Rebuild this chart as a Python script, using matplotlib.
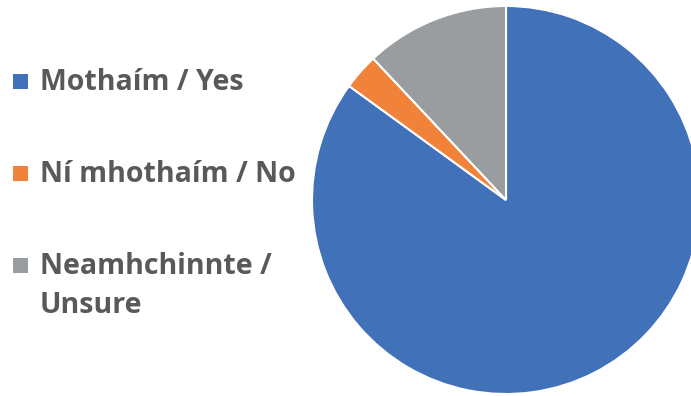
import matplotlib.pyplot as plt
from matplotlib.patches import Rectangle

# data
labels = ["Mothaím / Yes", "Ní mhothaím / No", "Neamhchinnte /\nUnsure"]
shares = [85, 3, 12]
colors = ["#4071B9", "#F08339", "#9A9D9F"]

W, H = 691, 396
fig = plt.figure(figsize=(W / 100, H / 100), dpi=100)

# pie: centre ~ (506, 200) px, radius ~ 194 px, cut off at right edge
cx, cy, r = 506, 200, 194
ax = fig.add_axes([(cx - r) / W, (H - cy - r) / H, 2 * r / W, 2 * r / H])
ax.pie(shares, colors=colors, startangle=90, counterclock=False,
       wedgeprops=dict(edgecolor="white", linewidth=1.5))
ax.set_xlim(-1, 1)
ax.set_ylim(-1, 1)
ax.set_aspect("equal")
ax.axis("off")

# legend drawn by hand (px from top: marker centre, baseline of last text line)
marker_y = [81, 173, 265]
baseline_y = [90, 182, 313]
sq = 15
for lab, col, my, by in zip(labels, colors, marker_y, baseline_y):
    fig.patches.append(Rectangle((13 / W, (H - my - sq / 2) / H), sq / W, sq / H,
                                 facecolor=col, edgecolor="none",
                                 transform=fig.transFigure))
    fig.text(40 / W, 1 - by / H, lab, fontsize=20.5, fontweight="bold",
             family="Open Sans", color="#595959", va="baseline", ha="left",
             linespacing=1.45)

fig.savefig("out.png", dpi=100)
